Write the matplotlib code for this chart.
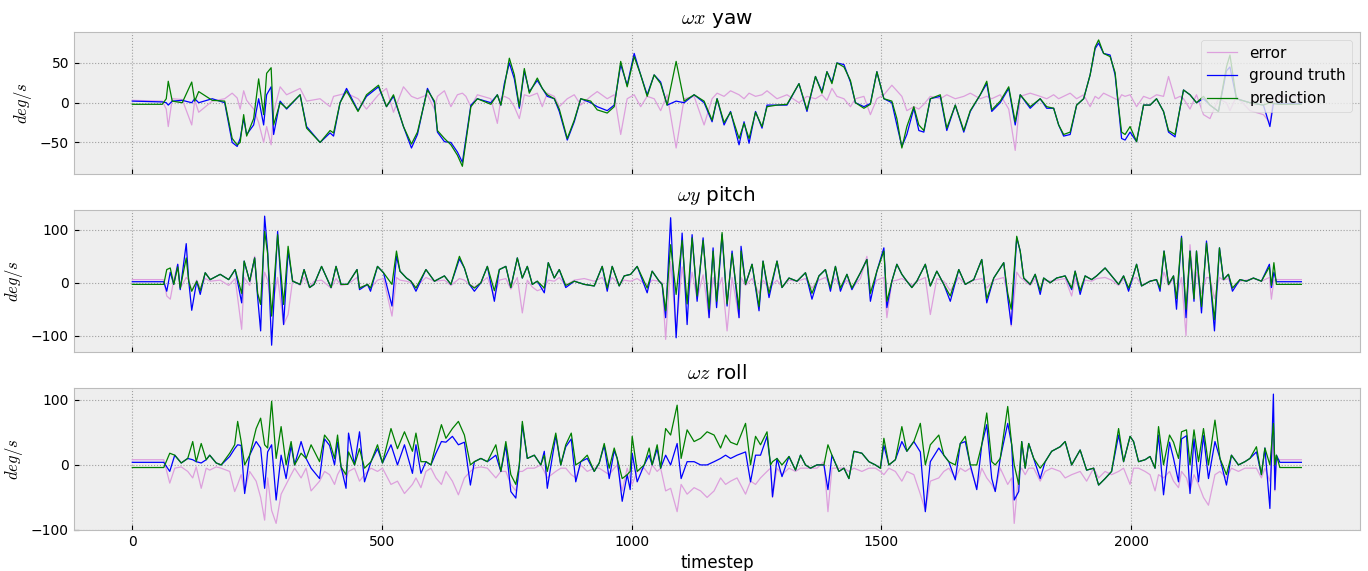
import numpy as np
import matplotlib
matplotlib.use('Agg')
import matplotlib.pyplot as plt

# === yaw (wx) ===
t_yaw = [0, 60, 68, 72, 80, 100, 119, 125, 133, 160,
         185, 200, 210, 216, 223, 229, 243, 253, 263, 269,
         278, 283, 296, 309, 336, 349, 376, 396, 403, 416,
         429, 452, 469, 493, 509, 523, 543, 559, 571, 591,
         605, 611, 625, 638, 651, 661, 668, 678, 691, 718,
         731, 738, 745, 755, 765, 775, 785, 795, 811, 821,
         831, 845, 855, 871, 885, 898, 918, 931, 951, 965,
         978, 991, 1005, 1018, 1031, 1045, 1058, 1071, 1089, 1105,
         1125, 1145, 1161, 1171, 1185, 1198, 1215, 1225, 1235, 1248,
         1261, 1271, 1291, 1311, 1335, 1351, 1368, 1381, 1391, 1401,
         1411, 1425, 1438, 1448, 1465, 1478, 1491, 1505, 1521, 1531,
         1541, 1551, 1565, 1575, 1585, 1598, 1618, 1631, 1648, 1665,
         1678, 1698, 1711, 1721, 1738, 1755, 1768, 1778, 1798, 1818,
         1831, 1845, 1855, 1865, 1878, 1891, 1905, 1918, 1928, 1935,
         1945, 1958, 1968, 1975, 1981, 1988, 1998, 2011, 2025, 2038,
         2051, 2065, 2075, 2088, 2098, 2105, 2118, 2131, 2145, 2158,
         2175, 2191, 2198, 2211, 2238, 2265, 2278, 2285, 2295, 2341]
gt_yaw = [2, 1, 0, -3, 2, 3, 0, 5, 0, 5,
          0, -50, -55, -45, -20, -40, -28, 5, -28, 10,
          20, -40, 2, -8, 10, -30, -50, -38, -42, 0,
          18, -10, 8, 20, -5, 8, -30, -57, -40, 18,
          0, -37, -49, -50, -62, -75, -45, -3, 5, 0,
          10, -3, 24, 50, 30, -7, 40, 14, 28, 18,
          8, 5, -11, -47, -24, 5, 0, -5, -10, -3,
          48, 22, 62, 35, 10, 35, 26, -3, 2, 0,
          10, 0, -24, 5, -28, -11, -53, -24, -51, -11,
          -32, -3, -3, -3, 24, -11, 33, 14, 39, 26,
          50, 48, 26, 0, -5, -1, 39, 5, 0, -28,
          -55, -40, -7, -35, -37, 5, 8, -35, -3, -37,
          -11, 10, 24, -11, 0, 18, -28, 10, -7, 5,
          -7, -7, -28, -42, -40, -3, 5, 35, 68, 75,
          62, 60, 35, -7, -45, -47, -37, -49, -3, -3,
          5, -11, -37, -43, -7, 16, 10, 0, 5, -3,
          -11, 40, 45, 5, 0, -3, -30, -1, -1, -1]
pred_yaw = [-2, -2, 5, 27, 2, 0, 26, 2, 14, 3,
            2, -45, -53, -50, -15, -42, -20, 30, -15, 37,
            44, -28, 0, -7, 10, -32, -50, -35, -38, 0,
            15, -11, 10, 22, -5, 10, -30, -52, -37, 16,
            2, -35, -45, -53, -66, -80, -49, -5, 5, -2,
            10, -3, 20, 56, 35, -5, 43, 12, 31, 18,
            10, 5, -8, -45, -22, 5, 2, -9, -13, -5,
            52, 20, 58, 35, 8, 35, 24, -3, 52, 2,
            10, 2, -22, 5, -25, -12, -45, -26, -45, -12,
            -30, -5, -3, -2, 24, -9, 33, 12, 39, 24,
            50, 45, 28, 0, -7, -2, 39, 5, 2, -20,
            -57, -30, -5, -28, -35, 5, 10, -32, -3, -35,
            -10, 10, 27, -9, 2, 20, -24, 10, -5, 5,
            -5, -7, -28, -40, -37, -3, 5, 35, 70, 79,
            62, 58, 38, -5, -37, -40, -30, -49, -3, -3,
            5, -11, -35, -40, -7, 16, 10, 0, 8, -3,
            -11, 45, 60, 5, 0, -3, 0, -1, -2, -2]
err_yaw = [3, 2, -8, -30, 5, 4, -28, 3, -12, 2,
           5, 12, 6, -8, 15, 3, -8, -25, -50, -30,
           -53, -12, 20, 10, 18, 2, 5, -5, 8, 10,
           12, 5, -8, 10, 18, -12, 20, 8, 5, 10,
           -8, 8, 15, -5, 10, 12, 8, -5, 10, 5,
           -26, 5, 8, 5, -5, -20, 10, 8, 12, -5,
           12, 8, -5, 5, 10, -3, 8, 14, 5, 10,
           -40, 5, 10, -5, 8, 5, -10, 10, -57, 5,
           8, -28, 5, 12, 8, 15, 10, 5, 12, 8,
           10, 15, 5, 10, 0, 8, 5, 10, 3, 18,
           8, 5, -5, 5, 8, -15, 5, 10, 22, 15,
           8, -10, -5, -8, -2, 8, 5, 10, 5, 8,
           12, 5, 8, 5, 10, -8, -60, 8, 12, 8,
           5, 10, 5, 8, 12, 5, 10, -5, 8, 5,
           12, 8, 5, 3, 10, 8, 10, -5, 8, 5,
           10, 8, 33, 5, 8, 5, -8, 10, -15, -20,
           5, 0, -10, 8, -10, -15, -25, 5, 8, 8]

# === pitch (wy) ===
t_pitch = [0, 63, 69, 76, 83, 91, 96, 108, 113, 119,
           129, 136, 146, 156, 176, 193, 206, 219, 224, 235,
           245, 251, 257, 265, 271, 279, 291, 303, 312, 321,
           336, 344, 355, 364, 379, 398, 408, 418, 431, 450,
           455, 471, 477, 491, 503, 520, 529, 536, 549, 558,
           568, 588, 605, 625, 638, 655, 665, 675, 685, 698,
           711, 725, 735, 748, 758, 771, 781, 791, 801, 811,
           825, 833, 845, 855, 868, 885, 905, 925, 941, 951,
           961, 975, 985, 998, 1011, 1031, 1041, 1055, 1061, 1068,
           1078, 1089, 1101, 1111, 1121, 1131, 1143, 1155, 1163, 1170,
           1181, 1191, 1201, 1215, 1219, 1228, 1241, 1255, 1263, 1275,
           1291, 1301, 1315, 1331, 1348, 1361, 1375, 1388, 1398, 1408,
           1418, 1431, 1441, 1458, 1471, 1478, 1491, 1505, 1511, 1521,
           1531, 1541, 1551, 1561, 1571, 1588, 1598, 1611, 1625, 1638,
           1655, 1668, 1685, 1701, 1711, 1725, 1745, 1753, 1760, 1771,
           1778, 1785, 1798, 1808, 1818, 1825, 1838, 1851, 1868, 1881,
           1888, 1898, 1908, 1921, 1931, 1948, 1961, 1975, 1985, 1995,
           2005, 2011, 2021, 2038, 2051, 2058, 2066, 2075, 2085, 2091,
           2101, 2110, 2118, 2126, 2131, 2141, 2151, 2158, 2167, 2177,
           2185, 2195, 2203, 2218, 2231, 2245, 2261, 2277, 2281, 2286,
           2291, 2341]
gt_pitch = [2, 2, -16, 20, -3, 35, -13, 74, 3, -52,
            3, -22, 19, 6, 16, 6, 25, -38, 41, 3,
            47, -28, -91, 126, 60, -118, 97, -79, 60, 3,
            -3, 25, -9, -3, 31, -9, 31, -3, -3, 25,
            -13, -3, -16, 31, 19, -44, 50, 22, 9, 3,
            -16, 25, 3, 13, -3, 45, 28, -3, -16, 0,
            31, -35, 25, 31, -9, 47, 9, 31, -3, 3,
            -19, 38, 9, 25, -9, 3, -3, -6, 31, -16,
            31, -6, 13, 16, 31, -19, 22, 3, -3, -66,
            123, -104, 94, -79, 91, -35, 85, -66, 66, -47,
            91, -44, 60, -66, 69, -3, 35, -53, 41, -28,
            41, -9, 9, 3, 19, -31, 13, 25, -16, 31,
            -16, 16, -13, 19, 44, -35, 22, 66, -47, 3,
            35, 16, 3, -9, 3, 35, -6, 22, -3, -35,
            25, -3, 6, 44, -38, 9, 38, -28, -79, 85,
            60, 9, -3, 16, -22, 9, 0, 9, 13, -13,
            22, -22, 13, 6, 13, 28, 13, -3, 13, -16,
            16, 35, -6, 3, 6, -16, 60, -3, 13, -50,
            88, -66, 60, -35, 60, -57, 79, 9, -91, 66,
            6, 16, -16, 6, 3, 9, 3, 35, -9, 20,
            2, 2]
pred_pitch = [-3, -3, 25, 28, -3, 30, -10, 47, 3, -16,
              3, -15, 19, 6, 16, 6, 25, -20, 41, 3,
              47, -20, -41, 97, 55, -63, 91, -41, 69, 3,
              -3, 25, -9, -3, 31, -9, 31, -3, -3, 25,
              -10, -3, -10, 31, 19, -3, 60, 22, 9, 3,
              -10, 25, 3, 13, -3, 50, 28, -3, -10, 0,
              31, -15, 25, 31, -9, 47, 9, 31, -3, 3,
              -10, 38, 9, 25, -5, 3, -3, -6, 31, -10,
              31, -6, 13, 16, 31, -10, 22, 3, -3, -53,
              72, -22, 80, -40, 85, -25, 80, -50, 60, -35,
              95, -40, 55, -50, 60, -3, 35, -45, 41, -20,
              41, -9, 9, 3, 19, -20, 13, 25, -10, 31,
              -10, 16, -10, 19, 44, -20, 22, 60, -35, 3,
              35, 16, 3, -9, 3, 35, -6, 22, -3, -25,
              25, -3, 6, 44, -30, 9, 38, -20, -50, 88,
              60, 9, -3, 16, -15, 9, 0, 9, 13, -10,
              22, -15, 13, 6, 13, 28, 13, -3, 13, -10,
              16, 35, -6, 3, 6, -10, 60, -3, 13, -30,
              85, -50, 60, -30, 60, -45, 75, 9, -70, 66,
              6, 16, -10, 6, 3, 9, 3, 30, -5, 38,
              -3, -3]
err_pitch = [6, 6, -25, -31, 5, 35, -10, 10, 5, -15,
             5, -10, 8, 3, 5, -5, 8, -88, 10, -5,
             50, -20, -40, 20, 5, -50, 10, -79, -60, 5,
             -5, 10, -8, 3, 5, -10, 8, -5, -3, 10,
             -8, -5, -10, 5, 8, -63, 10, 5, 3, 0,
             -8, 10, 3, 5, -5, 8, 5, -3, -8, 0,
             10, -25, 5, 8, -12, 10, -57, 5, -8, -15,
             -10, 5, 3, 10, -5, 5, 8, 3, 10, -5,
             10, -3, 5, 3, 8, -5, 5, 3, 0, -107,
             40, -91, 30, -40, 20, -30, 15, -66, 10, -20,
             10, -91, 10, -66, 10, -5, 8, -20, 5, -10,
             5, -8, 5, 3, 8, -10, 5, 10, -5, 8,
             -8, 5, -10, 8, 50, -15, 5, 10, -66, 3,
             5, 8, 3, -5, 3, 10, -60, 8, 3, -15,
             10, -3, 5, 8, -10, 5, 10, -20, -82, 20,
             10, 5, -5, 8, -12, 5, 3, 5, 8, -25,
             8, -15, 5, 3, 8, 10, 5, -5, 8, -10,
             8, 10, -5, 3, 5, -8, 20, -5, 8, -25,
             10, -100, 72, -10, 20, -20, 10, 9, -30, 10,
             5, 8, -10, 3, 5, 8, 3, 10, -31, 5,
             6, 6]

# === roll (wz) ===
t_roll = [0, 63, 75, 85, 98, 111, 121, 128, 138, 148,
          155, 168, 178, 195, 205, 211, 218, 225, 235, 248,
          257, 265, 271, 279, 288, 298, 308, 318, 325, 338,
          348, 358, 375, 385, 395, 405, 411, 418, 428, 433,
          445, 455, 465, 478, 491, 501, 518, 531, 545, 561,
          568, 578, 588, 598, 608, 619, 628, 641, 653, 665,
          677, 685, 698, 711, 728, 738, 748, 758, 768, 775,
          781, 791, 805, 818, 825, 831, 848, 858, 868, 879,
          888, 898, 911, 925, 935, 945, 955, 965, 971, 981,
          991, 997, 1001, 1011, 1025, 1035, 1041, 1051, 1058, 1068,
          1078, 1091, 1099, 1111, 1125, 1138, 1151, 1165, 1178, 1188,
          1198, 1211, 1228, 1238, 1248, 1258, 1271, 1278, 1282, 1291,
          1301, 1315, 1328, 1338, 1348, 1358, 1371, 1385, 1393, 1401,
          1415, 1425, 1435, 1445, 1461, 1475, 1488, 1498, 1505, 1515,
          1528, 1541, 1551, 1565, 1578, 1588, 1598, 1615, 1625, 1635,
          1648, 1658, 1668, 1678, 1691, 1701, 1711, 1721, 1728, 1738,
          1753, 1761, 1766, 1775, 1781, 1788, 1795, 1805, 1818, 1828,
          1841, 1858, 1868, 1881, 1898, 1911, 1925, 1935, 1948, 1961,
          1975, 1985, 1998, 2005, 2015, 2028, 2038, 2048, 2055, 2065,
          2077, 2085, 2095, 2101, 2111, 2118, 2126, 2135, 2145, 2155,
          2168, 2178, 2191, 2201, 2215, 2228, 2238, 2251, 2261, 2268,
          2278, 2285, 2288, 2291, 2298, 2341]
gt_roll = [4, 4, -10, 15, 3, 10, 8, 5, 3, 8,
           15, 3, 0, 13, 25, 31, 30, -44, 15, 36,
           26, -36, 20, 31, -54, 15, -21, 30, 0, 36,
           10, -5, -21, 40, 30, 0, 35, -3, -36, 49,
           0, 51, -26, 5, 25, 3, 31, 0, 31, -13,
           31, -13, 5, 0, 18, 36, 35, 44, 31, 35,
           -31, 5, 10, 5, 15, -10, 30, -41, -51, 0,
           62, 10, 15, 0, 21, -36, 45, 0, 28, 40,
           -26, 5, 10, -10, 3, 30, -21, 22, 10, -56,
           -15, -38, 18, -26, 0, 15, 0, 25, -5, 15,
           0, 33, -21, 5, 5, 0, 0, 5, 10, 15,
           10, 15, 20, -26, 15, 15, 44, 0, -49, 10,
           -18, 13, -8, 15, 0, -5, 0, 0, -38, 15,
           -10, -5, -21, 21, 18, 5, 0, -5, 30, 0,
           8, 36, 21, 36, 20, -72, 5, 26, 15, 5,
           -23, 33, 36, 0, -38, 31, 62, -21, -41, 10,
           64, 31, -54, -41, 36, -5, 33, 10, -21, 5,
           21, 28, 36, 0, 23, -8, -5, -31, -21, -10,
           46, 5, 44, 36, 5, 8, 13, -5, 46, -46,
           35, 10, -26, 40, 45, -44, 40, -26, 45, -21,
           36, 10, -31, 15, 0, 5, 10, 20, -15, 26,
           -67, 109, -38, 15, 4, 4]
pred_roll = [-4, -4, 18, 15, 3, 10, 36, 5, 33, 8,
             15, 3, 0, 18, 31, 67, 36, 0, 15, 56,
             72, 31, 26, 98, 10, 59, 0, 36, 0, 18,
             10, 31, 5, 46, 36, 10, 46, -3, -15, 20,
             0, 25, -5, 5, 31, 3, 56, 25, 51, 21,
             49, 5, 5, 0, 31, 62, 41, 56, 67, 46,
             0, 5, 10, 5, 31, -10, 36, -15, -30, 0,
             67, 10, 15, 0, 15, -10, 49, 0, 31, 49,
             0, 5, 15, -10, 3, 33, -5, 26, 10, -21,
             -15, -10, 44, -10, 0, 26, 0, 31, -5, 56,
             46, 92, 10, 54, 36, 41, 51, 46, 26, 46,
             35, 31, 64, 0, 44, 31, 51, 0, 5, 10,
             0, 13, -8, 15, 0, -5, 0, 0, 31, 15,
             -10, -5, -21, 21, 18, 5, 0, -5, 41, 0,
             8, 59, 21, 36, 64, 0, 31, 46, 15, 5,
             0, 33, 44, 0, 0, 31, 80, 5, 0, 10,
             90, 31, 0, -30, 36, -5, 33, 10, -5, 5,
             21, 28, 36, 0, 23, -8, -5, -31, -21, -10,
             56, 5, 44, 36, 5, 8, 13, -5, 59, 0,
             46, 35, 10, 51, 54, 0, 54, 5, 56, 0,
             69, 10, -15, 15, 0, 5, 10, 28, -15, 26,
             0, 64, 0, 15, -4, -4]
err_roll = [8, 8, -28, -5, -3, -10, -20, -3, -36, -5,
            -8, -3, -5, -10, -41, -30, -15, -40, -10, -25,
            -50, -85, -20, -70, -90, -45, -30, -15, -5, -20,
            -5, -40, -25, -10, -15, -30, -15, -5, -20, -10,
            -5, -25, -15, -5, -10, -5, -30, -25, -44, -30,
            -20, -35, -10, -5, -20, -30, -10, -25, -46, -20,
            -10, -5, -3, -5, -20, -10, -10, -30, -40, -10,
            -10, -5, -5, 0, -10, -20, -10, -5, -5, -15,
            -20, 0, -10, -5, -5, -10, -15, -5, 0, -40,
            -5, -20, -30, -10, -5, -15, 0, -10, -5, -40,
            -36, -72, -30, -45, -35, -40, -50, -40, -20, -30,
            -25, -20, -45, -25, -30, -20, -10, -5, -50, -5,
            -15, -5, -10, -5, -5, -5, -5, 5, -72, -5,
            -5, -5, -10, -5, -10, -5, -5, -10, -15, -5,
            -10, -25, -10, -15, -45, -70, -25, -20, -10, -5,
            -20, -5, -10, -5, -35, -5, -20, -30, -40, -5,
            -30, -20, -90, -10, -5, -15, -5, -5, -25, -10,
            -5, -10, -20, -15, -10, -25, -5, -20, -10, -15,
            -10, -5, -30, -5, -5, -10, -15, -40, -15, -20,
            -10, -25, -35, -10, -20, -40, -15, -30, -50, -62,
            -15, -10, -20, -5, -10, -5, -5, -5, -20, -5,
            -25, 40, -40, 8, 8, 8]

panels = [
    (r'$\omega x$ yaw', t_yaw, gt_yaw, pred_yaw, err_yaw, (-90, 89), [-50, 0, 50]),
    (r'$\omega y$ pitch', t_pitch, gt_pitch, pred_pitch, err_pitch, (-131, 138), [-100, 0, 100]),
    (r'$\omega z$ roll', t_roll, gt_roll, pred_roll, err_roll, (-100, 119), [-100, 0, 100]),
]

plt.style.use('bmh')
fig, axes = plt.subplots(3, 1, figsize=(13.68, 5.71), dpi=100, sharex=True)
fig.subplots_adjust(left=0.054, right=0.994, top=0.944, bottom=0.072, hspace=0.25)

for ax, (title, t, gt, pred, err, ylim, yticks) in zip(axes, panels):
    ax.plot(t, err, color='plum', lw=0.9, label='error')
    ax.plot(t, gt, color='blue', lw=0.9, label='ground truth')
    ax.plot(t, pred, color='green', lw=0.9, label='prediction')
    ax.set_title(title)
    ax.set_ylabel(r'$deg/s$')
    ax.set_ylim(*ylim)
    ax.set_yticks(yticks)
    ax.grid(True, linestyle=':', linewidth=0.8, color='#a0a0a0')

axes[0].legend(loc='upper right', fontsize=11)
axes[2].set_xlim(-117, 2458)
axes[2].set_xticks([0, 500, 1000, 1500, 2000])
axes[2].set_xlabel('timestep')

plt.savefig('out.png')
